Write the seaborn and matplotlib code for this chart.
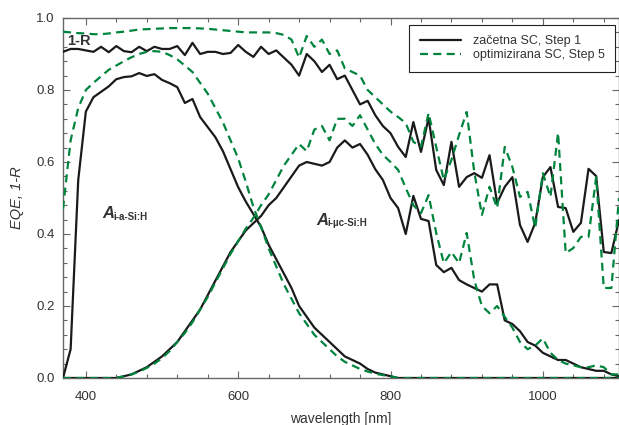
import matplotlib
matplotlib.use("Agg")
import matplotlib.pyplot as plt
from matplotlib.ticker import MultipleLocator
import seaborn as sns
import pandas as pd

wavelength = list(range(370, 1110, 10))

one_minus_R_step1 = [
    0.906, 0.914, 0.914, 0.910, 0.906, 0.920, 0.905, 0.922, 0.908, 0.905,
    0.920, 0.908, 0.920, 0.914, 0.914, 0.922, 0.897, 0.931, 0.900, 0.906,
    0.906, 0.900, 0.903, 0.925, 0.906, 0.892, 0.920, 0.900, 0.910, 0.890,
    0.870, 0.840, 0.900, 0.880, 0.850, 0.870, 0.830, 0.840, 0.800, 0.760,
    0.770, 0.730, 0.700, 0.680,
    0.642, 0.614, 0.711, 0.628, 0.722, 0.578, 0.536, 0.656, 0.531, 0.558,
    0.569, 0.556, 0.619, 0.486, 0.531, 0.558, 0.425, 0.378, 0.431, 0.558,
    0.586, 0.475, 0.472, 0.406, 0.431, 0.581, 0.561, 0.350, 0.347, 0.439]

one_minus_R_step5 = [
    0.962, 0.960, 0.958, 0.957, 0.955, 0.955, 0.957, 0.960, 0.962, 0.965,
    0.968, 0.969, 0.970, 0.971, 0.972, 0.972, 0.972, 0.972, 0.971, 0.970,
    0.968, 0.966, 0.964, 0.962, 0.960, 0.960, 0.960, 0.960, 0.958, 0.953,
    0.940, 0.890, 0.950, 0.920, 0.940, 0.900, 0.910, 0.860, 0.850, 0.840,
    0.800, 0.780, 0.760, 0.740,
    0.725, 0.708, 0.656, 0.642, 0.736, 0.642, 0.550, 0.606, 0.675, 0.739,
    0.572, 0.453, 0.531, 0.472, 0.642, 0.586, 0.503, 0.517, 0.417, 0.569,
    0.503, 0.681, 0.347, 0.361, 0.392, 0.392, 0.558, 0.250, 0.250, 0.500]

A_aSi_step1 = [
    0.000, 0.080, 0.550, 0.740, 0.780, 0.795, 0.810, 0.830, 0.836, 0.838,
    0.847, 0.839, 0.844, 0.828, 0.819, 0.808, 0.764, 0.775, 0.725, 0.697,
    0.669, 0.630, 0.580, 0.530, 0.490, 0.455, 0.420, 0.370, 0.330, 0.290,
    0.250, 0.200, 0.170, 0.140, 0.120, 0.100, 0.080, 0.060, 0.050, 0.040,
    0.025, 0.015, 0.010, 0.005,
    0.000, 0.000, 0.000, 0.000, 0.000, 0.000, 0.000, 0.000, 0.000, 0.000,
    0.000, 0.000, 0.000, 0.000, 0.000, 0.000, 0.000, 0.000, 0.000, 0.000,
    0.000, 0.000, 0.000, 0.000, 0.000, 0.000, 0.000, 0.000, 0.000, 0.000]

A_aSi_step5 = [
    0.470, 0.660, 0.750, 0.800, 0.820, 0.838, 0.856, 0.868, 0.880, 0.891,
    0.900, 0.906, 0.908, 0.906, 0.897, 0.885, 0.868, 0.850, 0.820, 0.790,
    0.750, 0.710, 0.660, 0.610, 0.545, 0.475, 0.420, 0.360, 0.310, 0.260,
    0.220, 0.180, 0.150, 0.120, 0.100, 0.080, 0.060, 0.045, 0.035, 0.025,
    0.018, 0.012, 0.008, 0.005,
    0.000, 0.000, 0.000, 0.000, 0.000, 0.000, 0.000, 0.000, 0.000, 0.000,
    0.000, 0.000, 0.000, 0.000, 0.000, 0.000, 0.000, 0.000, 0.000, 0.000,
    0.000, 0.000, 0.000, 0.000, 0.000, 0.000, 0.000, 0.000, 0.000, 0.000]

A_ucSi_step1 = [
    0.000, 0.000, 0.000, 0.000, 0.000, 0.000, 0.000, 0.000, 0.005, 0.010,
    0.020, 0.030, 0.045, 0.060, 0.080, 0.100, 0.130, 0.160, 0.190, 0.230,
    0.270, 0.310, 0.350, 0.380, 0.410, 0.430, 0.450, 0.480, 0.500, 0.530,
    0.560, 0.590, 0.600, 0.595, 0.590, 0.600, 0.640, 0.660, 0.640, 0.650,
    0.620, 0.580, 0.550, 0.500,
    0.472, 0.400, 0.506, 0.442, 0.436, 0.314, 0.294, 0.306, 0.272, 0.260,
    0.250, 0.240, 0.260, 0.260, 0.160, 0.150, 0.130, 0.100, 0.090, 0.070,
    0.060, 0.050, 0.050, 0.040, 0.030, 0.025, 0.020, 0.020, 0.010, 0.005]

A_ucSi_step5 = [
    0.000, 0.000, 0.000, 0.000, 0.000, 0.000, 0.000, 0.000, 0.005, 0.010,
    0.018, 0.028, 0.040, 0.055, 0.075, 0.100, 0.125, 0.155, 0.190, 0.225,
    0.265, 0.305, 0.345, 0.380, 0.415, 0.445, 0.480, 0.510, 0.550, 0.590,
    0.620, 0.650, 0.630, 0.690, 0.700, 0.660, 0.720, 0.720, 0.700, 0.730,
    0.690, 0.650, 0.620, 0.600,
    0.578, 0.528, 0.480, 0.458, 0.508, 0.403, 0.319, 0.350, 0.319, 0.403,
    0.272, 0.200, 0.180, 0.200, 0.170, 0.140, 0.100, 0.080, 0.090, 0.110,
    0.070, 0.050, 0.040, 0.035, 0.030, 0.030, 0.035, 0.030, 0.010, 0.010]

legend_labels = ["začetna SC, Step 1", "optimizirana SC, Step 5"]

sns.set_theme(style="ticks")
plt.rcParams["font.family"] = ["Liberation Sans", "DejaVu Sans"]

BLACK = "#1a1a1a"
GREEN = "#00843d"
TXT = "#333333"
SPINE = "#666666"

fig = plt.figure(figsize=(6.19, 4.25), dpi=100)
ax = fig.add_axes([63 / 619, 47 / 425, (619 - 63) / 619, (378 - 18) / 425])

df = pd.DataFrame({"wl": wavelength,
                   "r1": one_minus_R_step1, "r5": one_minus_R_step5,
                   "a1": A_aSi_step1, "a5": A_aSi_step5,
                   "u1": A_ucSi_step1, "u5": A_ucSi_step5})

lw = 1.6
dash = (3.6, 2.4)
for col, label in (("r1", legend_labels[0]), ("a1", None), ("u1", None)):
    sns.lineplot(data=df, x="wl", y=col, ax=ax, color=BLACK, lw=lw,
                 label=label, legend=False, zorder=3)
for col, label in (("r5", legend_labels[1]), ("a5", None), ("u5", None)):
    l = sns.lineplot(data=df, x="wl", y=col, ax=ax, color=GREEN, lw=lw,
                     label=label, legend=False, zorder=4)
    l.lines[-1].set_dashes(dash)

ax.set_xlim(370, 1100)
ax.set_ylim(0, 1.0)
ax.xaxis.set_major_locator(MultipleLocator(200))
ax.xaxis.set_minor_locator(MultipleLocator(40))
ax.yaxis.set_major_locator(MultipleLocator(0.2))
ax.yaxis.set_minor_locator(MultipleLocator(0.04))
ax.yaxis.set_major_formatter(plt.FuncFormatter(lambda v, p: f"{v:.1f}"))
ax.tick_params(which="both", direction="in", top=True, right=True,
               color=SPINE, labelcolor=TXT, labelsize=9.5, width=0.8)
ax.tick_params(which="major", length=5, pad=6)
ax.tick_params(axis="x", which="major", pad=9)
ax.tick_params(which="minor", length=3)
for s in ax.spines.values():
    s.set_color(SPINE)
    s.set_linewidth(1.0)

ax.set_xlabel("wavelength [nm]", fontsize=10, color=TXT, labelpad=7)
ax.set_ylabel("EQE, 1-R", fontsize=10.5, color=TXT, style="italic", labelpad=9)

ax.text(376, 0.935, "1-R", fontsize=10.5, fontweight="bold", color=TXT,
        va="center", ha="left")
ax.annotate("A", (421, 0.444), fontsize=12, fontweight="bold", style="italic",
            color=TXT, ha="left", va="baseline")
ax.annotate("i-a-Si:H", (421, 0.444), xytext=(8, -1), textcoords="offset points",
            fontsize=7, fontweight="bold", color=TXT, ha="left", va="baseline")
ax.annotate("A", (703, 0.425), fontsize=12, fontweight="bold", style="italic",
            color=TXT, ha="left", va="baseline")
ax.annotate("i-µc-Si:H", (703, 0.425), xytext=(8, -1), textcoords="offset points",
            fontsize=7, fontweight="bold", color=TXT, ha="left", va="baseline")

h, labs = ax.get_legend_handles_labels()
leg = ax.legend(h[:2], labs[:2], loc="upper right", bbox_to_anchor=(0.993, 0.981),
                fontsize=9, frameon=True, fancybox=False, framealpha=1,
                edgecolor="#222222", borderpad=0.85, handlelength=3.3,
                handletextpad=0.9, labelspacing=0.15, labelcolor=TXT,
                borderaxespad=0.0)
leg.get_frame().set_linewidth(0.8)

fig.savefig("out.png", dpi=100)
